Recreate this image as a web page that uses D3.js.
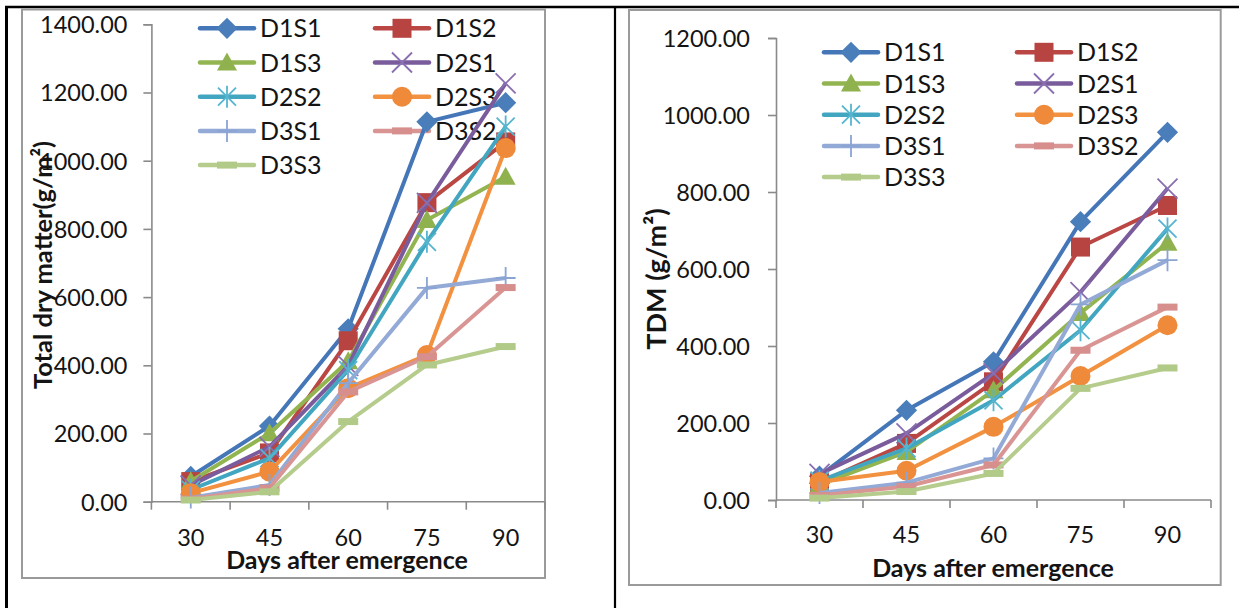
<!DOCTYPE html>
<html>
<head>
<meta charset="utf-8">
<script src="https://cdn.jsdelivr.net/npm/d3@7"></script>
<style>
  html, body { margin: 0; padding: 0; background: #fff; }
  svg { display: block; font-family: Lato, "Open Sans", sans-serif; }
</style>
</head>
<body>
<svg id="fig" width="1239" height="608"></svg>
<script>
// Sampling days (categories on the x axis)
const days = ["30", "45", "60", "75", "90"];

// Treatment combinations, in plotting order
const treatments = ["D1S1", "D1S2", "D1S3", "D2S1", "D2S2", "D2S3", "D3S1", "D3S2", "D3S3"];

// Total dry matter (g/m²), one row per treatment
const totalDryMatter = [
  [74, 222, 507, 1114, 1170],
  [59, 143, 472, 877, 1055],
  [60, 201, 412, 826, 953],
  [48, 161, 398, 876, 1227],
  [35, 128, 386, 762, 1100],
  [25, 88, 333, 430, 1037],
  [12, 49, 348, 627, 656],
  [8, 40, 322, 425, 628],
  [5, 29, 235, 401, 455]
];

// TDM (g/m²), one row per treatment
const tdm = [
  [62, 233, 359, 723, 955],
  [45, 147, 307, 657, 765],
  [40, 125, 285, 486, 668],
  [68, 173, 329, 540, 809],
  [50, 134, 259, 441, 705],
  [47, 76, 190, 322, 454],
  [18, 45, 108, 508, 623],
  [12, 35, 91, 389, 501],
  [5, 22, 69, 290, 343]
];

// Y tick values for each panel
const ticksTotal = [0, 200, 400, 600, 800, 1000, 1200, 1400];
const ticksTdm = [0, 200, 400, 600, 800, 1000, 1200];

// Series styling: line colour, marker colour, marker kind
const lineColors   = ["#4577B8", "#BA4744", "#93B551", "#7A5C9C", "#43A6C0", "#F2913F", "#93AAD6", "#D99593", "#B5CC8D"];
const markerColors = ["#4A7EBB", "#B84441", "#8FB24E", "#8A6FB0", "#55B5CF", "#EE8A3A", "#8AA4D4", "#D68F8D", "#B1CA88"];
const markerKinds  = ["diamond", "square", "triangle", "cross", "star", "circle", "plus", "dash", "dash"];

const svg = d3.select("#fig");
const axisGrey = "#8a8a8a";
const textColor = "#141414";

// Table frame around the two figures
const frame = svg.append("g").attr("fill", "none").attr("stroke", "#000");
frame.append("line").attr("x1", 5).attr("x2", 1239).attr("y1", 7).attr("y2", 7).attr("stroke-width", 2.5);
frame.append("line").attr("x1", 6.5).attr("x2", 6.5).attr("y1", 6).attr("y2", 608).attr("stroke-width", 3);
frame.append("line").attr("x1", 615).attr("x2", 615).attr("y1", 6).attr("y2", 608).attr("stroke-width", 2.2);

function drawMarker(g, kind, color, cx, cy) {
  const m = g.append("g").attr("transform", `translate(${cx},${cy})`);
  switch (kind) {
    case "diamond":
      m.append("rect").attr("x", -7.5).attr("y", -7.5).attr("width", 15).attr("height", 15)
        .attr("transform", "rotate(45)").attr("fill", color);
      break;
    case "square":
      m.append("rect").attr("x", -9.5).attr("y", -9.5).attr("width", 19).attr("height", 19).attr("fill", color);
      break;
    case "triangle":
      m.append("path").attr("d", "M0,-10L10,8L-10,8Z").attr("fill", color);
      break;
    case "circle":
      m.append("circle").attr("r", 10).attr("fill", color);
      break;
    case "cross":
      m.append("path").attr("d", "M-10,-10L10,10M-10,10L10,-10").attr("stroke", color).attr("stroke-width", 1.8).attr("fill", "none");
      break;
    case "star":
      m.append("path").attr("d", "M-9,-9L9,9M-9,9L9,-9M0,-11L0,11").attr("stroke", color).attr("stroke-width", 1.8).attr("fill", "none");
      break;
    case "plus":
      m.append("path").attr("d", "M0,-11L0,11M-10,0L10,0").attr("stroke", color).attr("stroke-width", 1.8).attr("fill", "none");
      break;
    case "dash":
      m.append("rect").attr("x", -10).attr("y", -3.5).attr("width", 20).attr("height", 7).attr("fill", color);
      break;
  }
}

function drawPanel(cfg) {
  const g = svg.append("g");

  // chart area border
  g.append("rect")
    .attr("x", cfg.box.x).attr("y", cfg.box.y).attr("width", cfg.box.w).attr("height", cfg.box.h)
    .attr("fill", "#fff").attr("stroke", "#9a9a9a").attr("stroke-width", 2);

  const x = d3.scaleBand().domain(days).range([cfg.plot.left, cfg.plot.right]).padding(0);
  const y = d3.scaleLinear().domain([0, cfg.yMax]).range([cfg.plot.bottom, cfg.plot.top]);

  // Y axis
  const yAxis = g.append("g")
    .attr("transform", `translate(${cfg.plot.left},0)`)
    .call(d3.axisLeft(y).tickValues(cfg.yTicks).tickFormat(d3.format(".2f")).tickSize(8).tickPadding(cfg.tickPad));
  yAxis.select(".domain").attr("stroke", axisGrey).attr("stroke-width", 1.6);
  yAxis.selectAll(".tick line").attr("stroke", axisGrey).attr("stroke-width", 1.6);
  yAxis.selectAll(".tick text").attr("fill", textColor).attr("font-size", 23.5).attr("font-family", "Lato").attr("dy", "0.36em");

  // X axis: ticks between categories, labels centred on categories
  const xAxis = g.append("g").attr("transform", `translate(0,${cfg.plot.bottom})`);
  xAxis.append("line").attr("x1", cfg.plot.left).attr("x2", cfg.plot.right)
    .attr("stroke", axisGrey).attr("stroke-width", 1.6);
  const bounds = days.map(d => x(d)).concat([x(days[days.length - 1]) + x.bandwidth()]);
  xAxis.selectAll("line.tk").data(bounds).join("line").attr("class", "tk")
    .attr("x1", d => d).attr("x2", d => d).attr("y1", 0).attr("y2", 8)
    .attr("stroke", axisGrey).attr("stroke-width", 1.6);
  g.selectAll("text.xl").data(days).join("text").attr("class", "xl")
    .attr("x", d => x(d) + x.bandwidth() / 2).attr("y", cfg.xLabelY)
    .attr("text-anchor", "middle").attr("font-size", 23.5).attr("fill", textColor).text(d => d);

  // Axis titles
  g.append("text").attr("x", cfg.xTitle.x).attr("y", cfg.xTitle.y)
    .attr("text-anchor", "middle").attr("font-weight", 700).attr("font-size", 25)
    .attr("fill", textColor).text("Days after emergence");
  g.append("text")
    .attr("transform", `translate(${cfg.yTitle.x},${cfg.yTitle.y}) rotate(-90)`)
    .attr("text-anchor", "middle").attr("font-weight", 700).attr("font-size", cfg.yTitle.size)
    .attr("fill", textColor).text(cfg.yTitle.text);

  // Legend (two columns, filled row by row)
  const lg = g.append("g");
  treatments.forEach((name, i) => {
    const col = i % 2, row = Math.floor(i / 2);
    const lx = cfg.legend.cols[col];
    const ly = cfg.legend.top + row * cfg.legend.step;
    lg.append("line").attr("x1", lx).attr("x2", lx + cfg.legend.len).attr("y1", ly).attr("y2", ly)
      .attr("stroke", lineColors[i]).attr("stroke-width", 4.5).attr("stroke-linecap", "round");
    drawMarker(lg, markerKinds[i], markerColors[i], lx + cfg.legend.len / 2, ly);
    lg.append("text").attr("x", lx + cfg.legend.len + 6).attr("y", ly).attr("dy", "0.36em")
      .attr("font-size", 25).attr("fill", textColor).text(name);
  });

  // Series lines and markers; later series draw on top
  const line = d3.line().x((d, j) => x(days[j]) + x.bandwidth() / 2).y(d => y(d));
  cfg.values.forEach((vals, i) => {
    const sg = g.append("g");
    sg.append("path").attr("d", line(vals)).attr("fill", "none")
      .attr("stroke", lineColors[i]).attr("stroke-width", 4).attr("stroke-linejoin", "round");
    vals.forEach((v, j) => drawMarker(sg, markerKinds[i], markerColors[i], x(days[j]) + x.bandwidth() / 2, y(v)));
  });
}

drawPanel({
  box: { x: 22, y: 9.5, w: 523, h: 568.5 },
  plot: { left: 151.4, right: 545, top: 24.3, bottom: 501.7 },
  yMax: 1400, yTicks: ticksTotal, tickPad: 16,
  values: totalDryMatter,
  xLabelY: 546,
  xTitle: { x: 347, y: 569 },
  yTitle: { x: 52, y: 265, text: "Total dry matter(g/m²)", size: 25.5 },
  legend: { cols: [200, 375], top: 28.3, step: 34.2, len: 54 }
});

drawPanel({
  box: { x: 629, y: 10, w: 591.7, h: 575 },
  plot: { left: 776, right: 1211, top: 38, bottom: 500 },
  yMax: 1200, yTicks: ticksTdm, tickPad: 18,
  values: tdm,
  xLabelY: 543,
  xTitle: { x: 993, y: 577 },
  yTitle: { x: 666, y: 279, text: "TDM (g/m²)", size: 27 },
  legend: { cols: [824, 1017], top: 52.3, step: 31.2, len: 54 }
});
</script>
</body>
</html>
